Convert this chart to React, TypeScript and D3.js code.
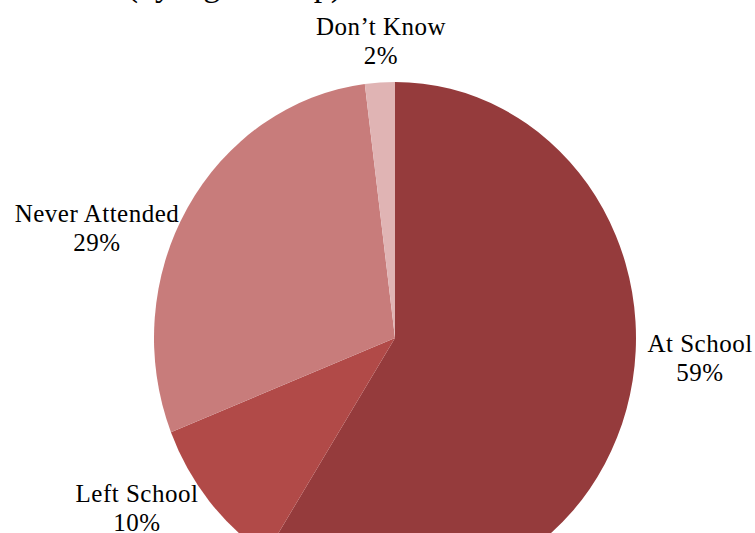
import React from "react";
import * as d3 from "d3";

const categories = ["At School", "Left School", "Never Attended", "Don’t Know"];
const values = [59, 10, 29, 2];
const colors = ["#953b3c", "#b14a48", "#c87c7b", "#e0b4b4"];
const titleText = "Schooling Status of Youth (by Age Group)";

const W = 755;
const H = 533;
const cx = 395;
const cy = 338;
const rx = 241;
const ry = 256;

// label anchor positions (layout)
const labelPos: [number, number][] = [
  [700, 352],
  [137, 502],
  [97, 222],
  [381, 35],
];

export default function App() {
  const pie = d3.pie<number>().sort(null).value((d) => d);
  const arcs = pie(values);
  const arc = d3.arc<d3.PieArcDatum<number>>().innerRadius(0).outerRadius(rx);
  const fontStyle = { fontFamily: "'Liberation Serif', 'DejaVu Serif', serif" };
  return (
    <svg
      width={W}
      height={H}
      style={{ position: "absolute", left: 0, top: 0, background: "#fff" }}
    >
      <text
        x={342}
        y={-4}
        textAnchor="end"
        style={fontStyle}
        fontSize={34}
        fill="#000"
      >
        {titleText}
      </text>
      <g transform={`translate(${cx},${cy}) scale(1,${ry / rx})`}>
        {arcs.map((a, i) => (
          <path key={categories[i]} d={arc(a) || ""} fill={colors[i]} />
        ))}
      </g>
      {arcs.map((a, i) => (
        <text
          key={"l" + i}
          x={labelPos[i][0]}
          y={labelPos[i][1]}
          textAnchor="middle"
          style={fontStyle}
          fontSize={25}
          letterSpacing={0.5}
          fill="#000"
        >
          <tspan x={labelPos[i][0]}>{categories[i]}</tspan>
          <tspan x={labelPos[i][0]} dy={29}>
            {values[i]}%
          </tspan>
        </text>
      ))}
    </svg>
  );
}
